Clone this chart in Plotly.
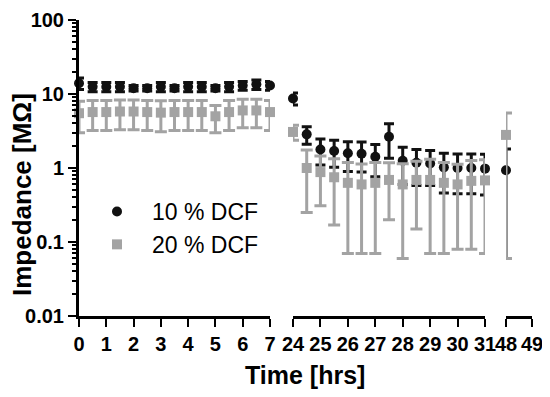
import plotly.graph_objects as go

# ---------------- data ----------------
time_seg1 = [0, 0.5, 1, 1.5, 2, 2.5, 3, 3.5, 4, 4.5, 5, 5.5, 6, 6.5, 7]
time_seg2 = [24, 24.5, 25, 25.5, 26, 26.5, 27, 27.5, 28, 28.5, 29, 29.5, 30, 30.5, 31]
time_seg3 = [48]

dcf10_seg1 = [14.0, 12.5, 12.5, 12.5, 12.0, 12.0, 12.5, 12.0, 12.5, 12.5, 12.0, 12.5, 13.0, 13.5, 13.0]
dcf10_seg1_sd = [2.5, 1.8, 1.8, 1.8, 1.0, 1.0, 1.8, 1.0, 1.8, 1.8, 1.0, 1.8, 1.8, 2.0, 1.8]
dcf10_seg2 = [8.7, 2.85, 1.78, 1.7, 1.58, 1.56, 1.42, 2.65, 1.25, 1.18, 1.15, 1.02, 1.0, 1.0, 0.98]
dcf10_seg2_sd = [1.6, 0.75, 0.68, 0.68, 0.68, 0.68, 0.66, 1.3, 0.65, 0.6, 0.57, 0.56, 0.55, 0.55, 0.55]
dcf10_seg3 = [0.93]
dcf10_seg3_sd = [0.87]

dcf20_seg1 = [5.5, 5.7, 5.7, 5.8, 5.8, 5.7, 5.6, 5.7, 5.7, 5.7, 5.0, 5.7, 6.0, 6.0, 5.7]
dcf20_seg1_sd = [2.5, 2.5, 2.5, 2.5, 2.5, 2.5, 2.5, 2.5, 2.5, 2.5, 2.0, 2.5, 2.5, 2.5, 2.5]
dcf20_seg2 = [3.07, 1.0, 0.88, 0.75, 0.63, 0.6, 0.63, 0.69, 0.6, 0.69, 0.69, 0.63, 0.6, 0.67, 0.68]
dcf20_seg2_sd = [0.7, 0.75, 0.57, 0.58, 0.56, 0.53, 0.56, 0.49, 0.54, 0.54, 0.62, 0.56, 0.52, 0.59, 0.61]
dcf20_seg3 = [2.8]
dcf20_seg3_sd = [2.74]

seg1_ticks = [0, 1, 2, 3, 4, 5, 6, 7]
seg2_ticks = [24, 25, 26, 27, 28, 29, 30, 31]
seg3_ticks = [48, 49]
y_tickvals = [0.01, 0.1, 1, 10, 100]
y_ticktext = ["0.01", "0.1", "1", "10", "100"]

series_names = ["10 % DCF", "20 % DCF"]

# ---------------- styling ----------------
BLACK = "#111111"
GRAY = "#a3a3a3"
FONT = "Liberation Sans"

fig = go.Figure()

segments = [
    ("x", time_seg1, dcf10_seg1, dcf10_seg1_sd, dcf20_seg1, dcf20_seg1_sd),
    ("x2", time_seg2, dcf10_seg2, dcf10_seg2_sd, dcf20_seg2, dcf20_seg2_sd),
    ("x3", time_seg3, dcf10_seg3, dcf10_seg3_sd, dcf20_seg3, dcf20_seg3_sd),
]

for i, (xa, t, m10, s10, m20, s20) in enumerate(segments):
    fig.add_trace(go.Scatter(
        x=t, y=m10, xaxis=xa, yaxis="y", mode="markers",
        name=series_names[0], legendgroup="a", showlegend=(i == 0),
        marker=dict(symbol="circle", size=10, color=BLACK),
        error_y=dict(type="data", array=s10, visible=True, color=BLACK,
                     thickness=3, width=5),
        cliponaxis=False,
    ))
for i, (xa, t, m10, s10, m20, s20) in enumerate(segments):
    fig.add_trace(go.Scatter(
        x=t, y=m20, xaxis=xa, yaxis="y", mode="markers",
        name=series_names[1], legendgroup="b", showlegend=(i == 0),
        marker=dict(symbol="square", size=10, color=GRAY),
        error_y=dict(type="data", array=s20, visible=True, color=GRAY,
                     thickness=3, width=6),
        cliponaxis=False,
    ))

tickfont = dict(family=FONT, size=20, color="black", weight="bold")

def xaxis_style(domain, rng, ticks):
    return dict(
        domain=domain, range=rng, anchor="y", automargin=False,
        tickmode="array", tickvals=ticks, ticktext=[str(v) for v in ticks],
        showline=True, linecolor="black", linewidth=3,
        ticks="outside", ticklen=8, tickwidth=2, tickcolor="black",
        showgrid=False, zeroline=False, tickangle=0,
        ticklabeloverflow="allow",
        tickfont=tickfont,
    )

# the page body adds an 8px offset; target coordinates are screen pixels
OFF = 8
W, H = 550 - OFF, 397 - OFF
X0, X1 = 79 - OFF, 532 - OFF     # plot area left/right (screen -> figure)
Y0, Y1 = 20 - OFF, 316 - OFF     # plot area top/bottom
L, R, T, B = X0, W - X1, Y0, H - Y1
pw, ph = X1 - X0, Y1 - Y0

def dom(a, b):
    return [(a - OFF - X0) / pw, (b - OFF - X0) / pw]

def xp(sx):
    return (sx - OFF - X0) / pw

def yp(sy):
    return (Y1 - (sy - OFF)) / ph

fig.update_layout(
    width=W, height=H,
    margin=dict(l=L, r=R, t=T, b=B, pad=0, autoexpand=False),
    paper_bgcolor="white", plot_bgcolor="white",
    font=dict(family=FONT, color="black"),
    xaxis=xaxis_style(dom(79, 270), [0, 7], seg1_ticks),
    xaxis2=xaxis_style(dom(293, 485), [24, 31], seg2_ticks),
    xaxis3=xaxis_style(dom(506, 532), [48, 49], seg3_ticks),
    yaxis=dict(
        type="log", range=[-2, 2], anchor="x", automargin=False,
        tickmode="array", tickvals=y_tickvals, ticktext=y_ticktext,
        showline=True, linecolor="black", linewidth=3,
        ticks="outside", ticklen=8, tickwidth=2, tickcolor="black",
        minor=dict(ticks="outside", ticklen=4, tickwidth=1.5, tickcolor="black",
                   dtick="D1", showgrid=False),
        showgrid=False, zeroline=False,
        ticklabeloverflow="allow",
        tickfont=dict(family=FONT, size=20, color="black", weight="bold"),
    ),
    showlegend=True,
    legend=dict(
        x=xp(82), y=yp(190),
        xanchor="left", yanchor="top",
        bgcolor="rgba(0,0,0,0)", borderwidth=0,
        font=dict(family=FONT, size=23, color="black"),
        itemwidth=60, tracegroupgap=0,
    ),
    annotations=[
        dict(text="Time [hrs]", xref="paper", yref="paper",
             x=xp(305), y=yp(375), xanchor="center", yanchor="middle",
             showarrow=False,
             font=dict(family=FONT, size=25, color="black", weight="bold")),
        dict(text="Impedance [MΩ]", xref="paper", yref="paper",
             x=xp(22), y=yp(195),
             xanchor="center", yanchor="middle", textangle=-90,
             showarrow=False,
             font=dict(family=FONT, size=26, color="black", weight="bold")),
    ],
)

fig.write_html("out.html")
